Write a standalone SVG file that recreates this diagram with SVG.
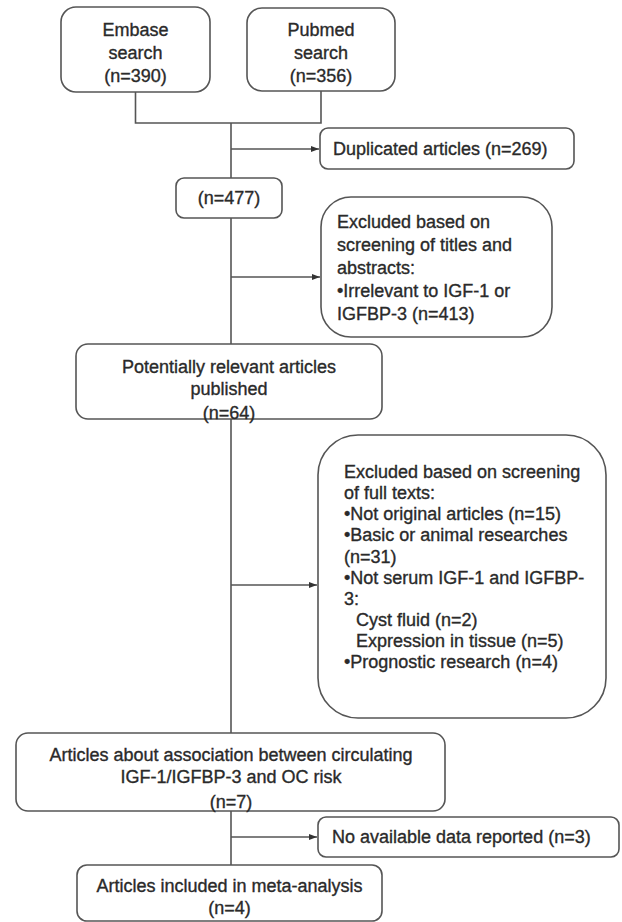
<svg xmlns="http://www.w3.org/2000/svg" width="622" height="922" viewBox="0 0 622 922">
<defs>
<marker id="ah" markerWidth="8" markerHeight="6" refX="8" refY="3" orient="auto" markerUnits="userSpaceOnUse">
<path d="M0,0 L8,3 L0,6 Z" fill="#333"/>
</marker>
<style>
.box{fill:#fff;stroke:#555;stroke-width:1.6}
.ln{fill:none;stroke:#555;stroke-width:1.6}
text{font-family:"Liberation Sans",Arial,sans-serif;font-size:18px;fill:#2a2a2a;stroke:#2a2a2a;stroke-width:0.35}
.c{text-anchor:middle}
</style>
</defs>
<rect width="622" height="922" fill="#fff"/>
<g id="connectors">
<path class="ln" d="M135.5,92 V123 H321 V91"/>
<path class="ln" d="M231,123 V178"/>
<path class="ln" d="M231,149 H319" marker-end="url(#ah)"/>
<path class="ln" d="M231,218 V344"/>
<path class="ln" d="M231,277 H320" marker-end="url(#ah)"/>
<path class="ln" d="M231,419 V733"/>
<path class="ln" d="M231,585 H317" marker-end="url(#ah)"/>
<path class="ln" d="M231,811 V865"/>
<path class="ln" d="M231,837 H317" marker-end="url(#ah)"/>
</g>
<g id="embase">
<rect class="box" x="61" y="7" width="149" height="85" rx="15"/>
<text class="c" x="135.5" y="36">Embase</text>
<text class="c" x="135.5" y="59">search</text>
<text class="c" x="135.5" y="82">(n=390)</text>
</g>
<g id="pubmed">
<rect class="box" x="247" y="8" width="148" height="83" rx="15"/>
<text class="c" x="321" y="36">Pubmed</text>
<text class="c" x="321" y="59">search</text>
<text class="c" x="321" y="82">(n=356)</text>
</g>
<g id="duplicated">
<rect class="box" x="320" y="128" width="254" height="41" rx="8"/>
<text x="333" y="155">Duplicated articles (n=269)</text>
</g>
<g id="n477">
<rect class="box" x="176" y="178" width="106" height="40" rx="8"/>
<text class="c" x="229" y="204">(n=477)</text>
</g>
<g id="excluded1">
<rect class="box" x="321" y="197" width="231" height="140" rx="30"/>
<text x="337" y="228">Excluded based on</text>
<text x="337" y="251">screening of titles and</text>
<text x="337" y="274">abstracts:</text>
<text x="337" y="297">•Irrelevant to IGF-1 or</text>
<text x="337" y="320">IGFBP-3 (n=413)</text>
</g>
<g id="relevant">
<rect class="box" x="76" y="344" width="306" height="75" rx="12"/>
<text class="c" x="229" y="373">Potentially relevant articles</text>
<text class="c" x="229" y="395">published</text>
<text class="c" x="229" y="419">(n=64)</text>
</g>
<g id="excluded2">
<rect class="box" x="318" y="435" width="288" height="283" rx="40"/>
<text x="344" y="478">Excluded based on screening</text>
<text x="344" y="499">of full texts:</text>
<text x="344" y="520">•Not original articles (n=15)</text>
<text x="344" y="541">•Basic or animal researches</text>
<text x="344" y="563">(n=31)</text>
<text x="344" y="584">•Not serum IGF-1 and IGFBP-</text>
<text x="344" y="605">3:</text>
<text x="356" y="626">Cyst fluid (n=2)</text>
<text x="356" y="647">Expression in tissue (n=5)</text>
<text x="344" y="668">•Prognostic research (n=4)</text>
</g>
<g id="association">
<rect class="box" x="16" y="733" width="429" height="78" rx="12"/>
<text class="c" x="231" y="761">Articles about association between circulating</text>
<text class="c" x="231" y="783">IGF-1/IGFBP-3 and OC risk</text>
<text class="c" x="231" y="808">(n=7)</text>
</g>
<g id="nodata">
<rect class="box" x="318" y="817" width="301" height="40" rx="8"/>
<text x="332" y="843">No available data reported (n=3)</text>
</g>
<g id="included">
<rect class="box" x="77" y="865" width="305" height="56" rx="10"/>
<text class="c" x="229.5" y="892">Articles included in meta-analysis</text>
<text class="c" x="229.5" y="914">(n=4)</text>
</g>
</svg>
